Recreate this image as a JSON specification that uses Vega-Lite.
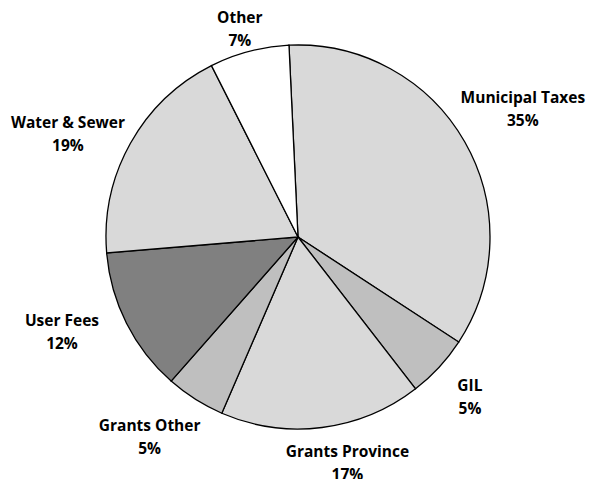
{
  "$schema": "https://vega.github.io/schema/vega-lite/v6.json",
  "width": 582,
  "height": 474,
  "autosize": {"type": "none"},
  "padding": {"left": 7, "top": 0, "right": 0, "bottom": 5},
  "background": "white",
  "view": {"stroke": null},
  "config": {
    "text": {"font": "Open Sans", "fontWeight": "bold", "fontSize": 15.5, "lineHeight": 23, "baseline": "middle", "align": "center", "color": "black"}
  },
  "data": {"values": [
    {"category": "Municipal Taxes", "value": 35.0, "order": 1},
    {"category": "GIL", "value": 5.3, "order": 2},
    {"category": "Grants Province", "value": 17.0, "order": 3},
    {"category": "Grants Other", "value": 5.0, "order": 4},
    {"category": "User Fees", "value": 12.2, "order": 5},
    {"category": "Water & Sewer", "value": 18.9, "order": 6},
    {"category": "Other", "value": 6.7, "order": 7}
  ]},
  "transform": [
    {"stack": "value", "groupby": [], "sort": [{"field": "order", "order": "ascending"}], "as": ["v0", "v1"]},
    {"calculate": "(datum.v0 + datum.v1) / 2", "as": "mid"},
    {"calculate": "[datum.category, format(datum.value / 100, '.0%')]", "as": "label"}
  ],
  "encoding": {
    "theta": {"field": "mid", "type": "quantitative", "scale": {"domain": [0, 100.1], "range": [-0.047, 6.2362]}}
  },
  "layer": [
    {
      "mark": {"type": "arc", "outerRadius": 192, "stroke": "black", "strokeWidth": 1.3},
      "encoding": {
        "theta": {"field": "v0", "type": "quantitative", "scale": {"domain": [0, 100.1], "range": [-0.047, 6.2362]}},
        "theta2": {"field": "v1"},
        "color": {
          "field": "category", "type": "nominal", "legend": null,
          "scale": {
            "domain": ["Municipal Taxes", "GIL", "Grants Province", "Grants Other", "User Fees", "Water & Sewer", "Other"],
            "range": ["#d9d9d9", "#bfbfbf", "#d9d9d9", "#bfbfbf", "#808080", "#d9d9d9", "#ffffff"]
          }
        }
      }
    },
    {
      "transform": [{"filter": "datum.category == 'Municipal Taxes'"}],
      "mark": {"type": "text", "radius": 259, "dy": -10},
      "encoding": {"text": {"field": "label"}}
    },
    {
      "transform": [{"filter": "datum.category == 'GIL'"}],
      "mark": {"type": "text", "radius": 234, "dy": -10},
      "encoding": {"text": {"field": "label"}}
    },
    {
      "transform": [{"filter": "datum.category == 'Grants Province'"}],
      "mark": {"type": "text", "radius": 227, "dx": 21, "dy": -10},
      "encoding": {"text": {"field": "label"}}
    },
    {
      "transform": [{"filter": "datum.category == 'Grants Other'"}],
      "mark": {"type": "text", "radius": 236, "dx": -22, "dy": -10},
      "encoding": {"text": {"field": "label"}}
    },
    {
      "transform": [{"filter": "datum.category == 'User Fees'"}],
      "mark": {"type": "text", "radius": 253, "dx": -10, "dy": -30},
      "encoding": {"text": {"field": "label"}}
    },
    {
      "transform": [{"filter": "datum.category == 'Water & Sewer'"}],
      "mark": {"type": "text", "radius": 251, "dx": -11, "dy": 9},
      "encoding": {"text": {"field": "label"}}
    },
    {
      "transform": [{"filter": "datum.category == 'Other'"}],
      "mark": {"type": "text", "radius": 217, "dx": -3, "dy": -9},
      "encoding": {"text": {"field": "label"}}
    }
  ]
}
